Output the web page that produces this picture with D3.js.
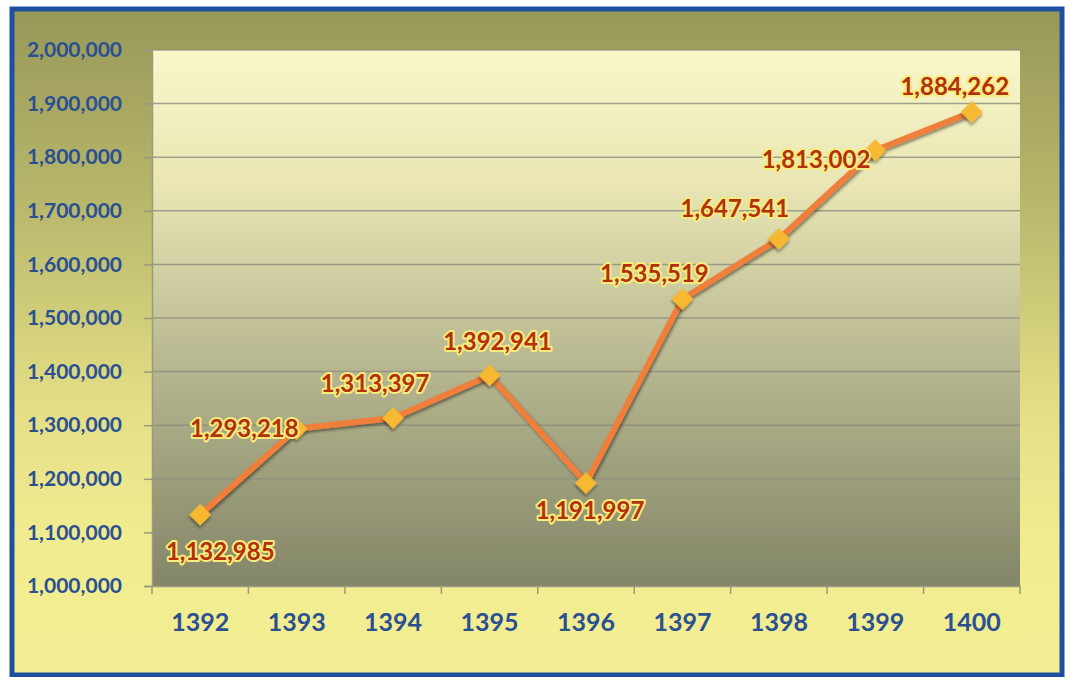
<!DOCTYPE html>
<html><head><meta charset="utf-8">
<script src="https://cdn.jsdelivr.net/npm/d3@7"></script>
<style>body{margin:0;background:#fff}svg{display:block}</style>
</head><body>
<script>
const years = ["1392","1393","1394","1395","1396","1397","1398","1399","1400"];
const values = [1132985,1293218,1313397,1392941,1191997,1535519,1647541,1813002,1884262];
const yTicks = [1000000,1100000,1200000,1300000,1400000,1500000,1600000,1700000,1800000,1900000,2000000];
// label placement relative to each marker: [dx, dy, anchor]
const labelOffsets = [[20,45,"middle"],[2,8,"end"],[-18,-26,"middle"],[8,-25,"middle"],[4,36,"middle"],
  [-28,-17,"middle"],[-44,-22,"middle"],[-5,18,"end"],[-17,-17,"middle"]];

const W = 1067, H = 677;
const svg = d3.select("body").append("svg").attr("width", W).attr("height", H);
const defs = svg.append("defs");
const og = defs.append("linearGradient").attr("id","outerG").attr("x1",0).attr("y1",0).attr("x2",0).attr("y2",1);
[[0,"#979859"],[0.3,"#b9b86c"],[0.6,"#e4df86"],[0.8,"#f1ec8f"],[1,"#f3ee93"]].forEach(s=>og.append("stop").attr("offset",s[0]).attr("stop-color",s[1]));
const pg = defs.append("linearGradient").attr("id","plotG").attr("x1",0).attr("y1",0).attr("x2",0).attr("y2",1);
[[0,"#f9f6ca"],[0.25,"#e9e6b4"],[0.6,"#b5b58f"],[1,"#838667"]].forEach(s=>pg.append("stop").attr("offset",s[0]).attr("stop-color",s[1]));
const sh = defs.append("filter").attr("id","shadow").attr("x","-50%").attr("y","-50%").attr("width","200%").attr("height","200%");
sh.append("feDropShadow").attr("dx",1.5).attr("dy",2).attr("stdDeviation",1.5).attr("flood-color","#000").attr("flood-opacity",0.45);

svg.append("rect").attr("x",12).attr("y",9).attr("width",1050).attr("height",666)
  .attr("fill","url(#outerG)").attr("stroke","#1f4f9e").attr("stroke-width",5);

const m = {l:152, r:1020, t:50, b:586};
const x = d3.scaleBand().domain(years).range([m.l, m.r]);
const y = d3.scaleLinear().domain([1000000,2000000]).range([m.b, m.t]);

svg.append("rect").attr("x",m.l).attr("y",m.t).attr("width",m.r-m.l).attr("height",m.b-m.t).attr("fill","url(#plotG)");

// grid
svg.append("g").selectAll("line").data(yTicks.slice(1)).join("line")
  .attr("x1",m.l).attr("x2",m.r).attr("y1",d=>y(d)).attr("y2",d=>y(d))
  .attr("stroke","#8e8e7c").attr("stroke-width",1.5).attr("opacity",0.8);

const font = "Lato, 'Open Sans', sans-serif";
// y axis
const yAxis = svg.append("g").attr("transform",`translate(${m.l},0)`)
  .call(d3.axisLeft(y).tickValues(yTicks).tickFormat(d3.format(",")).tickSize(8).tickPadding(22));
yAxis.select(".domain").attr("stroke","#9a9a80").attr("stroke-width",1.5);
yAxis.selectAll(".tick line").attr("stroke","#9a9a80").attr("stroke-width",1.5);
yAxis.selectAll("text").attr("fill","#2a5091").attr("font-family",font)
  .attr("font-weight","bold").attr("font-size",21);

// x axis
const xAxis = svg.append("g").attr("transform",`translate(0,${m.b})`)
  .call(d3.axisBottom(x).tickSize(0).tickPadding(27));
xAxis.select(".domain").attr("stroke","#9a9a80").attr("stroke-width",1.5);
xAxis.selectAll("text").attr("fill","#2a5091").attr("font-family",font)
  .attr("font-weight","bold").attr("font-size",25);
const bounds = years.map(d=>x(d)).concat([m.r]);
svg.append("g").selectAll("line").data(bounds).join("line")
  .attr("x1",d=>d).attr("x2",d=>d).attr("y1",m.b).attr("y2",m.b+8)
  .attr("stroke","#9a9a80").attr("stroke-width",1.5);

const cx = d => x(d) + x.bandwidth()/2;
const line = d3.line().x((d,i)=>cx(years[i])).y(d=>y(d));
svg.append("path").datum(values).attr("d",line).attr("fill","none")
  .attr("stroke","#ef7f3a").attr("stroke-width",6).attr("stroke-linejoin","round")
  .attr("filter","url(#shadow)");

svg.append("g").selectAll("path").data(values).join("path")
  .attr("d", d3.symbol().type(d3.symbolSquare).size(240))
  .attr("transform",(d,i)=>`translate(${cx(years[i])},${y(d)}) rotate(45)`)
  .attr("fill","#f8b932").attr("filter","url(#shadow)");

const fmt = d3.format(",");
svg.append("g").selectAll("text").data(values).join("text")
  .attr("x",(d,i)=>cx(years[i])+labelOffsets[i][0])
  .attr("y",(d,i)=>y(d)+labelOffsets[i][1])
  .attr("text-anchor",(d,i)=>labelOffsets[i][2])
  .text(d=>fmt(d))
  .attr("font-family",font).attr("font-weight","bold").attr("font-size",24)
  .attr("fill","#b3300e").attr("stroke","#f7ec7c").attr("stroke-width",4).attr("stroke-linejoin","round")
  .attr("paint-order","stroke");
</script>
</body></html>
